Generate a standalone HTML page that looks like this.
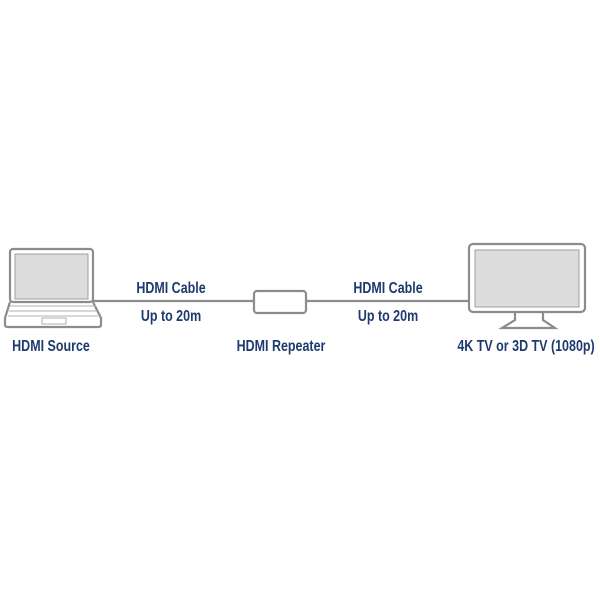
<!DOCTYPE html>
<html><head><style>
body{margin:0;width:600px;height:600px;background:#fff;position:relative;overflow:hidden}
.t{position:absolute;font-family:"Liberation Sans",sans-serif;font-weight:bold;color:#1e3a6e;font-size:16px;white-space:nowrap;transform:translateX(-50%) scaleX(0.78);line-height:1}
</style></head><body>
<svg width="600" height="600" style="position:absolute;left:0;top:0">
<g fill="none" stroke="#8c8c8c" stroke-width="2.2">
<rect x="10" y="249" width="83" height="53" rx="3"/>
<rect x="15" y="254" width="73" height="45" fill="#dcdcdc" stroke="#a0a0a0" stroke-width="1"/>
<path d="M10 302 L5 318 L5 325 Q5 327 8 327 L98 327 Q101 327 101 325 L101 318 L93 302"/>
<line x1="93" y1="301" x2="254" y2="301"/>
<rect x="254" y="291" width="52" height="22" rx="3"/>
<line x1="306" y1="301" x2="469" y2="301"/>
<rect x="469" y="244" width="116" height="68" rx="4"/>
<rect x="475" y="250" width="104" height="57" fill="#dcdcdc" stroke="#a0a0a0" stroke-width="1"/>
<path d="M515 313 L515 320 L502 328 L555 328 L543 320 L543 313"/>
</g>
<g stroke="#b0b0b0" stroke-width="1" fill="none">
<line x1="10" y1="306" x2="96" y2="306"/><line x1="9" y1="311" x2="97" y2="311"/><line x1="8" y1="316" x2="98" y2="316"/>
<rect x="42" y="318" width="24" height="6"/>
</g>
</svg>
<div class="t" style="left:171px;top:281px">HDMI Cable</div>
<div class="t" style="left:171px;top:309px">Up to 20m</div>
<div class="t" style="left:388px;top:281px">HDMI Cable</div>
<div class="t" style="left:388px;top:309px">Up to 20m</div>
<div class="t" style="left:51px;top:339px">HDMI Source</div>
<div class="t" style="left:281px;top:339px">HDMI Repeater</div>
<div class="t" style="left:526px;top:339px">4K TV or 3D TV (1080p)</div>
</body></html>
